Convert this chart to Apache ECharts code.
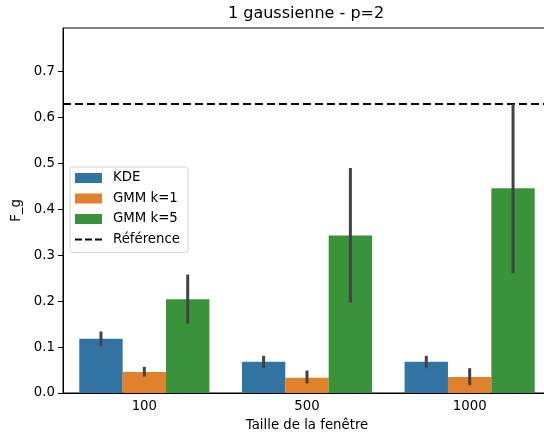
<!DOCTYPE html>
<html>
<head>
<meta charset="utf-8">
<script src="https://cdn.jsdelivr.net/npm/echarts@6/dist/echarts.min.js"></script>
<style>
html,body{margin:0;padding:0;background:#fff;overflow:hidden;width:544px;height:439px;}
#chart{width:570px;height:439px;}
</style>
</head>
<body>
<div id="chart"></div>
<script>
const categories = ['100', '500', '1000'];
const kde = [0.118, 0.068, 0.068];
const kdeLow = [0.102, 0.054, 0.054];
const kdeHigh = [0.134, 0.081, 0.081];
const gmm1 = [0.046, 0.033, 0.035];
const gmm1Low = [0.036, 0.021, 0.017];
const gmm1High = [0.057, 0.049, 0.054];
const gmm5 = [0.204, 0.343, 0.446];
const gmm5Low = [0.151, 0.197, 0.261];
const gmm5High = [0.258, 0.490, 0.629];
const referenceValue = 0.627;
const yTicks = [0, 0.1, 0.2, 0.3, 0.4, 0.5, 0.6, 0.7];

const colors = ['#3274a1', '#e1812c', '#3a923a'];
const font = 'DejaVu Sans';

function errSeries(low, high, idx) {
  return {
    type: 'custom',
    name: 'err' + idx,
    z: 10,
    silent: true,
    data: categories.map((c, i) => [i, low[i], high[i]]),
    renderItem: function (params, api) {
      const band = api.size([1, 0])[0];
      const off = (idx - 1) * band * 0.8 / 3;
      const p1 = api.coord([api.value(0), api.value(1)]);
      const p2 = api.coord([api.value(0), api.value(2)]);
      return {
        type: 'line',
        shape: { x1: p1[0] + off, y1: p1[1], x2: p2[0] + off, y2: p2[1] },
        style: { stroke: '#424242', lineWidth: 3 }
      };
    }
  };
}

const chart = echarts.init(document.getElementById('chart'), null, { renderer: 'canvas' });
chart.setOption({
  animation: false,
  backgroundColor: '#fff',
  title: {
    text: '1 gaussienne - p=2',
    left: 228, top: 6, padding: 0,
    textStyle: { fontFamily: font, fontSize: 16, fontWeight: 'normal', color: '#000' }
  },
  grid: {
    left: 63, top: 28, width: 488, height: 365,
    show: true, borderColor: '#000', borderWidth: 1, backgroundColor: 'transparent'
  },
  legend: {
    orient: 'vertical',
    left: 70, top: 167,
    padding: [4, 8, 6, 5],
    itemWidth: 27, itemHeight: 10, itemGap: 6.5,
    borderColor: '#d5d5d5', borderWidth: 1, borderRadius: 3,
    backgroundColor: 'rgba(255,255,255,0.8)',
    symbolKeepAspect: true,
    textStyle: { fontFamily: font, fontSize: 13.3, color: '#000', lineHeight: 14, padding: [0, 0, 0, 6] },
    data: [
      { name: 'KDE', icon: 'rect' },
      { name: 'GMM k=1', icon: 'rect' },
      { name: 'GMM k=5', icon: 'rect' },
      { name: 'Référence', icon: 'path://M0,0h7v2h-7z M10,0h7v2h-7z M20,0h7v2h-7z', itemStyle: { color: '#000' } }
    ]
  },
  xAxis: {
    type: 'category',
    data: categories,
    name: 'Taille de la fenêtre',
    nameLocation: 'middle',
    nameGap: 26,
    nameTextStyle: { fontFamily: font, fontSize: 13.3, color: '#000' },
    axisLine: { lineStyle: { color: '#000', width: 1 } },
    axisTick: { alignWithLabel: true, length: 5, lineStyle: { color: '#000' } },
    axisLabel: { fontFamily: font, fontSize: 13.3, color: '#000', margin: 7 },
    splitLine: { show: false }
  },
  yAxis: {
    type: 'value',
    min: 0, max: 0.795,
    name: 'F_g',
    nameLocation: 'middle',
    nameGap: 34,
    nameTextStyle: { fontFamily: font, fontSize: 13.3, color: '#000' },
    axisLine: { show: true, lineStyle: { color: '#000', width: 1 } },
    axisTick: { show: true, length: 5, lineStyle: { color: '#000' }, customValues: yTicks },
    axisLabel: { fontFamily: font, fontSize: 13.3, color: '#000', margin: 8,
      customValues: yTicks, formatter: v => v.toFixed(1) },
    splitLine: { show: false }
  },
  series: [
    { type: 'bar', name: 'KDE', data: kde, itemStyle: { color: colors[0] }, barGap: '0%', barCategoryGap: '20%' },
    { type: 'bar', name: 'GMM k=1', data: gmm1, itemStyle: { color: colors[1] }, barGap: '0%', barCategoryGap: '20%' },
    { type: 'bar', name: 'GMM k=5', data: gmm5, itemStyle: { color: colors[2] }, barGap: '0%', barCategoryGap: '20%' },
    errSeries(kdeLow, kdeHigh, 0),
    errSeries(gmm1Low, gmm1High, 1),
    errSeries(gmm5Low, gmm5High, 2),
    {
      type: 'line', name: 'Référence', data: [], symbol: 'none',
      itemStyle: { color: '#000' },
      lineStyle: { color: '#000', width: 2, type: [8, 4] },
      markLine: {
        silent: true, symbol: 'none', label: { show: false },
        lineStyle: { color: '#000', width: 2, type: [8, 4] },
        data: [{ yAxis: referenceValue }]
      }
    }
  ]
});
</script>
</body>
</html>
